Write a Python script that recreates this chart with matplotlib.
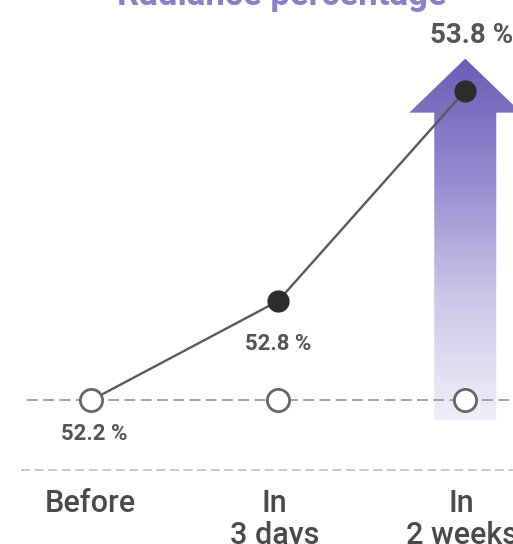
import numpy as np
import matplotlib.pyplot as plt
from matplotlib.colors import LinearSegmentedColormap
from matplotlib.patches import Polygon

plt.rcParams['font.family'] = ['Roboto', 'DejaVu Sans']

# data
categories = ['Before', 'In\n3 days', 'In\n2 weeks']
values = [52.2, 52.8, 53.8]
value_labels = ['52.2 %', '52.8 %', '53.8 %']
title = 'Radiance percentage'

base = values[0]
power = 1.16


def fwd(v):
    d = np.asarray(v) - base
    return np.sign(d) * np.abs(d) ** power


def inv(u):
    u = np.asarray(u)
    return base + np.sign(u) * np.abs(u) ** (1 / power)


fig = plt.figure(figsize=(5.13, 5.44), dpi=100)

# background axes (pixel coords) for the gradient arrow
bg = fig.add_axes([0, 0, 1, 1], zorder=0)
bg.set_xlim(0, 513)
bg.set_ylim(0, 544)
bg.axis('off')

ax = fig.add_axes([0, 0, 1, 1], zorder=1)
ax.patch.set_visible(False)
ax.set_yscale('function', functions=(fwd, inv))
x = np.arange(len(categories))
ax.set_xlim(-0.485, 2.255)
ax.set_ylim(float(inv(-0.80)), float(inv(2.23)))
ax.axis('off')

# arrow behind the last point
px, py = ax.transData.transform((x[-1], values[-1]))
bx, by = ax.transData.transform((x[-1], base))
arrow = [(px - 31, by - 20), (px - 31, py - 22), (px - 56, py - 22), (px, py + 32),
         (px + 56, py - 22), (px + 31, py - 22), (px + 31, by - 20)]
poly = Polygon(arrow, closed=True, facecolor='none', edgecolor='none')
bg.add_patch(poly)
cmap = LinearSegmentedColormap.from_list('arr', ['#f1eff9', '#cdc7e8', '#978bd0', '#6b5cb6'])
grad = np.linspace(0, 1, 256).reshape(-1, 1)
im = bg.imshow(grad, cmap=cmap, origin='lower', aspect='auto',
               extent=(px - 56, px + 56, by - 20, py + 32))
im.set_clip_path(poly)

# dashed guide lines
ax.axhline(base, xmin=27 / 513, color='#9a9a9a', lw=1.3, dashes=(6, 3), zorder=1)
ax.plot([0.04, 1], [0.136, 0.136], transform=ax.transAxes, color='#c4c4c4',
        lw=1.3, dashes=(5, 2.5), zorder=1)

# line and markers
ax.plot(x, values, color='#5a5a5a', lw=1.7, zorder=2)
ax.plot(x, [base] * len(x), 'o', ms=16, mfc='white', mec='#666666', mew=2, zorder=3)
ax.plot(x[1:], values[1:], 'o', ms=15, color='#2c2c2c', zorder=4)

# value labels
offsets = [(3, -34, 16), (0, -43, 16), (6, 55, 20)]
for xi, v, lab, (dx, dy, fs) in zip(x, values, value_labels, offsets):
    ax.annotate(lab, (xi, v), xytext=(dx, dy), textcoords='offset pixels',
                ha='center', va='center', fontsize=fs, fontweight='bold',
                color='#555555')

# category labels
for xi, cat in zip(x, categories):
    ax.text(xi - 0.02 * (xi > 0), 0.102, cat, transform=ax.get_xaxis_transform(),
            ha='center', va='top', fontsize=22, fontweight='medium',
            color='#4a4a4a', linespacing=1.15)

# title (cut off at the top)
fig.text(0.55, 539 / 544, title, ha='center', va='baseline', color='#8a80c8',
         fontsize=25, fontweight='bold')

fig.savefig('out.png', dpi=100)
